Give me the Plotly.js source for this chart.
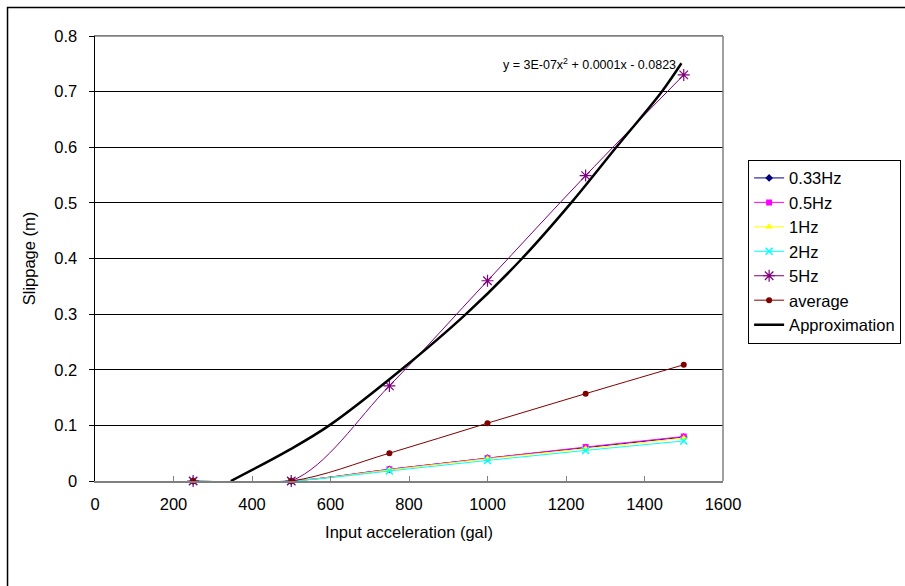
<!DOCTYPE html>
<html>
<head>
<meta charset="utf-8">
<script src="https://cdn.plot.ly/plotly-3.0.1.min.js"></script>
<style>html,body{margin:0;padding:0;background:#fff;}#chart{width:905px;height:586px;}</style>
</head>
<body>
<div id="chart"></div>
<script>
// Input acceleration (gal)
const accel = [250, 500, 750, 1000, 1250, 1500];
// Slippage (m) per frequency
const hz033 = [0, 0, 0.021, 0.041, 0.060, 0.079];
const hz05  = [0, 0, 0.021, 0.041, 0.061, 0.080];
const hz1   = [0, 0, 0.020, 0.040, 0.058, 0.077];
const hz2   = [0, 0, 0.018, 0.037, 0.055, 0.072];
const hz5   = [0, 0, 0.171, 0.360, 0.549, 0.730];
const avg   = [0, 0, 0.050, 0.104, 0.157, 0.209];
// Approximation curve
const approxX = [346, 495, 597, 780, 945, 1088, 1213, 1328, 1444, 1494];
const approxY = [0, 0.056, 0.1, 0.2, 0.3, 0.4, 0.5, 0.6, 0.7, 0.751];
const xTicks = [0, 200, 400, 600, 800, 1000, 1200, 1400, 1600];
const yTicks = [0, 0.1, 0.2, 0.3, 0.4, 0.5, 0.6, 0.7, 0.8];

const FONT = "'Liberation Sans', Arial, sans-serif";

function series(name, y, color, symbol, size, mline) {
  return {
    x: accel, y: y, name: name, type: 'scatter', mode: 'lines+markers',
    line: {color: color, width: 1, shape: 'spline'},
    marker: {color: color, symbol: symbol, size: size, line: {color: color, width: mline}},
    cliponaxis: false
  };
}

const data = [
  series('0.33Hz', hz033, '#000080', 'diamond', 6, 0),
  series('0.5Hz', hz05, '#FF00FF', 'square', 6, 0),
  series('1Hz', hz1, '#FFFF00', 'triangle-up', 7, 0),
  series('2Hz', hz2, '#00FFFF', 'x-thin-open', 7, 1.5),
  series('5Hz', hz5, '#800080', 'asterisk-open', 10, 1.2),
  series('average', avg, '#800000', 'circle', 6, 0),
  {x: approxX, y: approxY, name: 'Approximation', type: 'scatter', mode: 'lines',
   line: {color: '#000000', width: 2.5, shape: 'spline'}}
];

const layout = {
  width: 905, height: 586,
  margin: {l: 95, r: 182, t: 36, b: 105, autoexpand: false},
  paper_bgcolor: '#ffffff', plot_bgcolor: '#ffffff',
  font: {family: FONT, size: 16, color: '#000'},
  showlegend: true,
  legend: {
    x: 1.04, xanchor: 'left', y: 0.722, yanchor: 'top',
    bordercolor: '#000', borderwidth: 1, bgcolor: '#fff',
    font: {family: FONT, size: 16.5, color: '#000'},
    itemwidth: 30, tracegroupgap: 0
  },
  xaxis: {
    range: [0, 1600], tickvals: xTicks, ticktext: xTicks.map(String),
    showgrid: false, zeroline: false,
    showline: true, linecolor: '#808080', linewidth: 1.5, mirror: true,
    ticks: 'inside', ticklen: 5, tickcolor: '#808080',
    tickfont: {family: FONT, size: 16.5},
    ticklabelstandoff: 8,
    title: {text: 'Input acceleration (gal)', font: {family: FONT, size: 16.5}, standoff: 14}
  },
  yaxis: {
    range: [0, 0.8], tickvals: yTicks, ticktext: yTicks.map(v => String(v)),
    showgrid: true, gridcolor: '#000', gridwidth: 1, zeroline: false,
    showline: true, linecolor: '#000', linewidth: 1.5,
    ticks: 'outside', ticklen: 5, tickcolor: '#000',
    tickfont: {family: FONT, size: 16.5},
    ticklabelstandoff: 8,
    title: {text: 'Slippage (m)', font: {family: FONT, size: 16.5}, standoff: 14}
  },
  annotations: [{
    xref: 'paper', yref: 'paper', x: 0.787, y: 0.936,
    text: 'y = 3E-07x<sup>2</sup> + 0.0001x - 0.0823', showarrow: false,
    font: {family: FONT, size: 12.5, color: '#000'}, xanchor: 'center', yanchor: 'middle'
  }],
  shapes: [
    {type: 'line', xref: 'paper', yref: 'paper', x0: 1, x1: 1, y0: 0, y1: 1,
     line: {color: '#808080', width: 1.5}},
    {type: 'line', xref: 'paper', yref: 'paper', x0: 0, x1: 1, y0: 1, y1: 1,
     line: {color: '#808080', width: 1.5}},
    {type: 'rect', xref: 'paper', yref: 'paper', x0: -0.1393, x1: 2, y0: -1, y1: 1.064,
     line: {color: '#000', width: 1.5}, layer: 'below'}
  ]
};

Plotly.newPlot('chart', data, layout, {staticPlot: true, displayModeBar: false});
</script>
</body>
</html>
